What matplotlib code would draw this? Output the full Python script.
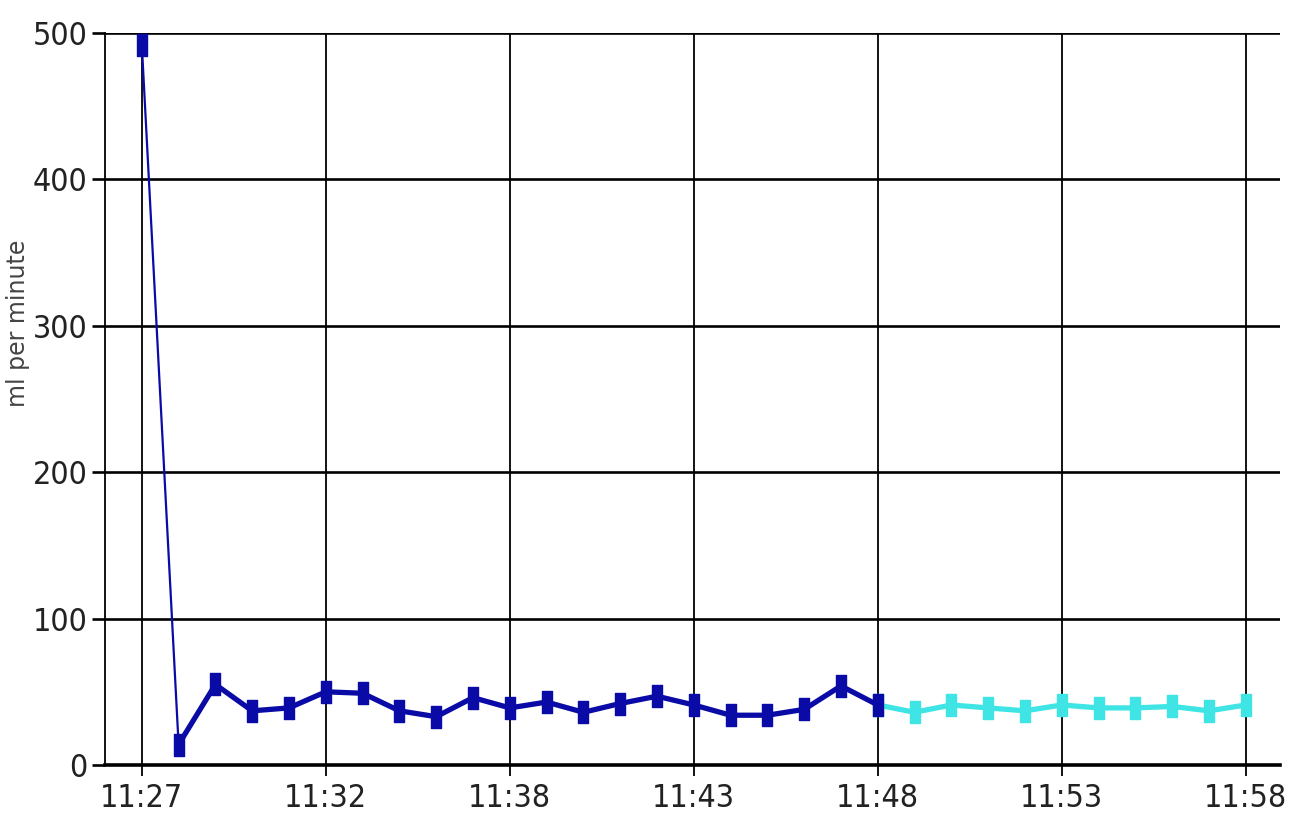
import matplotlib
matplotlib.use("Agg")
import matplotlib.pyplot as plt
from matplotlib.path import Path
import numpy as np

# Flow readings, one per sample (about one minute apart)
measured = [492, 14, 55, 37, 39, 50, 49, 37, 33, 46,
            39, 43, 36, 42, 47, 41, 34, 34, 38, 54, 41]
forecast = [41, 36, 41, 39, 37, 41, 39, 39, 40, 37, 41]
tick_labels = ["11:27", "11:32", "11:38", "11:43", "11:48", "11:53", "11:58"]
y_ticks = [0, 100, 200, 300, 400, 500]

x_measured = np.arange(len(measured))
x_forecast = np.arange(len(forecast)) + len(measured) - 1
tick_pos = np.arange(len(tick_labels)) * 5

dark = "#0a0aa6"
cyan = "#3fe4e4"

# tall rectangular marker
rect = Path([(-0.5, -1), (0.5, -1), (0.5, 1), (-0.5, 1), (-0.5, -1)],
            [Path.MOVETO, Path.LINETO, Path.LINETO, Path.LINETO, Path.CLOSEPOLY])

fig = plt.figure(figsize=(12.9, 8.27), dpi=100)
ax = fig.add_axes([105 / 1290, 1 - 765 / 827, 1175 / 1290, 732 / 827])

ax.set_xlim(-1.0, 30.93)
ax.set_ylim(0, 500)

# forecast segment
ax.plot(x_forecast, forecast, color=cyan, lw=3.8, zorder=3, solid_capstyle="round")
ax.plot(x_forecast, forecast, ls="none", marker=rect, ms=15.5, color=cyan,
        mec=cyan, zorder=4)

# measured segment
ax.plot(x_measured[:2], measured[:2], color=dark, lw=1.6, zorder=5)
ax.plot(x_measured[1:], measured[1:], color=dark, lw=3.8, zorder=5,
        solid_joinstyle="round")
ax.plot(x_measured, measured, ls="none", marker=rect, ms=15.5, color=dark,
        mec=dark, zorder=6)

ax.set_yticks(y_ticks)
ax.set_xticks(tick_pos)
ax.set_xticklabels(tick_labels)

for s in ("top", "right"):
    ax.spines[s].set_visible(False)
ax.spines["left"].set_linewidth(1.3)
ax.spines["bottom"].set_linewidth(2.6)
ax.spines["left"].set_color("black")
ax.spines["bottom"].set_color("black")

ax.yaxis.grid(True, color="black", lw=1.9)
ax.xaxis.grid(True, color="black", lw=1.3)
ax.set_axisbelow(True)

ax.tick_params(axis="y", length=9.5, width=1.9, pad=3, labelsize=23,
               labelcolor="#222222")
ax.tick_params(axis="x", length=8, width=1.3, pad=5, labelsize=23,
               labelcolor="#222222")
for lab in ax.get_xticklabels() + ax.get_yticklabels():
    lab.set_fontfamily(["DejaVu Sans"])
    lab.set_fontstretch("condensed")

ax.set_ylabel("ml per minute", fontsize=17, color="#444444",
              family=["DejaVu Sans"])
ax.yaxis.set_label_coords(-0.064, 0.604)

fig.savefig("out.png", dpi=100, facecolor="white")
